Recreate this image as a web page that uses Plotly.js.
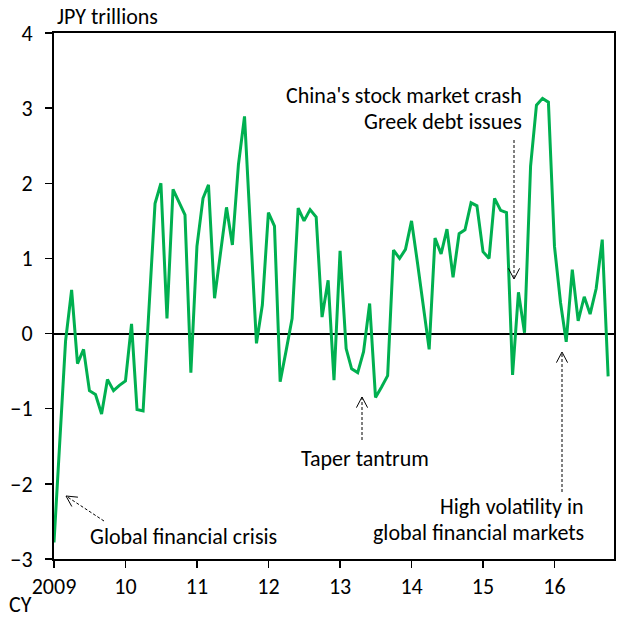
<!DOCTYPE html>
<html>
<head>
<meta charset="utf-8">
<script src="https://cdn.plot.ly/plotly-3.0.1.min.js"></script>
<style>html,body{margin:0;padding:0;background:#fff;}#chart{width:618px;height:619px;}</style>
</head>
<body>
<div id="chart"></div>
<script>
// Monthly values, Jan 2009 .. Oct 2016 (JPY trillions)
const startYear = 2009;
const values = [
  -2.78, -1.30, -0.10, 0.58, -0.40, -0.21, -0.76, -0.81, -1.07, -0.61, -0.76, -0.69,
  -0.63, 0.13, -1.01, -1.03, 0.35, 1.73, 2.00, 0.20, 1.92, 1.75, 1.58, -0.52,
  1.16, 1.80, 1.98, 0.47, 1.10, 1.68, 1.18, 2.25, 2.89, 1.38, -0.13, 0.38,
  1.61, 1.43, -0.64, -0.22, 0.20, 1.67, 1.50, 1.65, 1.55, 0.22, 0.71, -0.62,
  1.10, -0.20, -0.47, -0.52, -0.24, 0.40, -0.85, -0.71, -0.56, 1.11, 1.00, 1.12,
  1.50, 0.93, 0.36, -0.21, 1.27, 1.06, 1.39, 0.75, 1.33, 1.38, 1.74, 1.70,
  1.09, 1.00, 1.80, 1.64, 1.61, -0.55, 0.55, 0.01, 2.23, 3.04, 3.13, 3.08,
  1.16, 0.41, -0.11, 0.85, 0.17, 0.49, 0.26, 0.60, 1.25, -0.57
];
const tickVals = ['2009-01-01','2010-01-01','2011-01-01','2012-01-01','2013-01-01','2014-01-01','2015-01-01','2016-01-01'];
const tickText = ['2009','10','11','12','13','14','15','16'];
const yTicks = [-3, -2, -1, 0, 1, 2, 3, 4];

const months = values.map((v, i) => {
  const y = startYear + Math.floor(i / 12);
  const m = (i % 12) + 1;
  return y + '-' + String(m).padStart(2, '0') + '-01';
});

const FONT = 'Carlito, Lato, sans-serif';
const FS = 22;
const W = 618, H = 619;
const M = {l: 54, r: 4, t: 33, b: 60};
const pw = W - M.l - M.r, ph = H - M.t - M.b;
const px = x => (x - M.l) / pw;
const py = y => (H - M.b - y) / ph;

function label(text, x, y, xanchor) {
  return {text: text, xref: 'paper', yref: 'paper', x: px(x), y: py(y),
    xanchor: xanchor || 'center', yanchor: 'middle', showarrow: false,
    borderpad: 0,
    font: {family: FONT, size: FS, color: '#000'}};
}
const annotations = [
  label('JPY trillions', 56, 17, 'left'),
  label('CY', 8, 604, 'left'),
  label('Global financial crisis', 183, 536),
  label('Taper tantrum', 365, 458),
  label("China's stock market crash", 523, 95, 'right'),
  label('Greek debt issues', 523, 121, 'right'),
  label('High volatility in', 585, 506, 'right'),
  label('global financial markets', 585, 532, 'right')
];

const shapes = [];
function arrow(x0, y0, x1, y1) {
  shapes.push({type: 'line', xref: 'paper', yref: 'paper',
    x0: px(x0), y0: py(y0), x1: px(x1), y1: py(y1),
    line: {color: '#000', width: 1, dash: '3px,2px'}});
  const ang = Math.atan2(y0 - y1, x0 - x1);
  const L = 12, a = Math.PI / 6.5;
  const ax = x1 + L * Math.cos(ang + a), ay = y1 + L * Math.sin(ang + a);
  const bx = x1 + L * Math.cos(ang - a), by = y1 + L * Math.sin(ang - a);
  shapes.push({type: 'path', xref: 'paper', yref: 'paper',
    path: 'M' + px(ax) + ',' + py(ay) + ' L' + px(x1) + ',' + py(y1) + ' L' + px(bx) + ',' + py(by),
    line: {color: '#000', width: 1}});
}
arrow(104, 521, 66, 496);
arrow(362, 440, 362, 397);
arrow(514, 140, 514, 279);
arrow(562, 492, 562, 352);

const trace = {
  x: months, y: values, type: 'scatter', mode: 'lines',
  line: {color: '#00B050', width: 3}, hoverinfo: 'skip'
};

const layout = {
  width: W, height: H, margin: M,
  paper_bgcolor: '#fff', plot_bgcolor: '#fff',
  showlegend: false,
  font: {family: FONT, size: FS, color: '#000'},
  xaxis: {
    type: 'date', range: ['2009-01-01', '2016-10-31'],
    tickmode: 'array', tickvals: tickVals, ticktext: tickText,
    ticks: 'outside', ticklen: 7, tickwidth: 1.5, tickcolor: '#000',
    showline: true, linecolor: '#000', linewidth: 2, mirror: true,
    showgrid: false, zeroline: false,
    tickfont: {family: FONT, size: FS, color: '#000'}
  },
  yaxis: {
    range: [-3, 4], tickmode: 'array', tickvals: yTicks,
    ticks: 'outside', ticklen: 7, tickwidth: 1.5, tickcolor: '#000',
    showline: true, linecolor: '#000', linewidth: 2, mirror: true,
    showgrid: false, zeroline: true, zerolinecolor: '#000', zerolinewidth: 2,
    ticklabelstandoff: 8,
    tickfont: {family: FONT, size: FS, color: '#000'}
  },
  annotations: annotations,
  shapes: shapes
};

Plotly.newPlot('chart', [trace], layout, {staticPlot: true, displayModeBar: false});
</script>
</body>
</html>
